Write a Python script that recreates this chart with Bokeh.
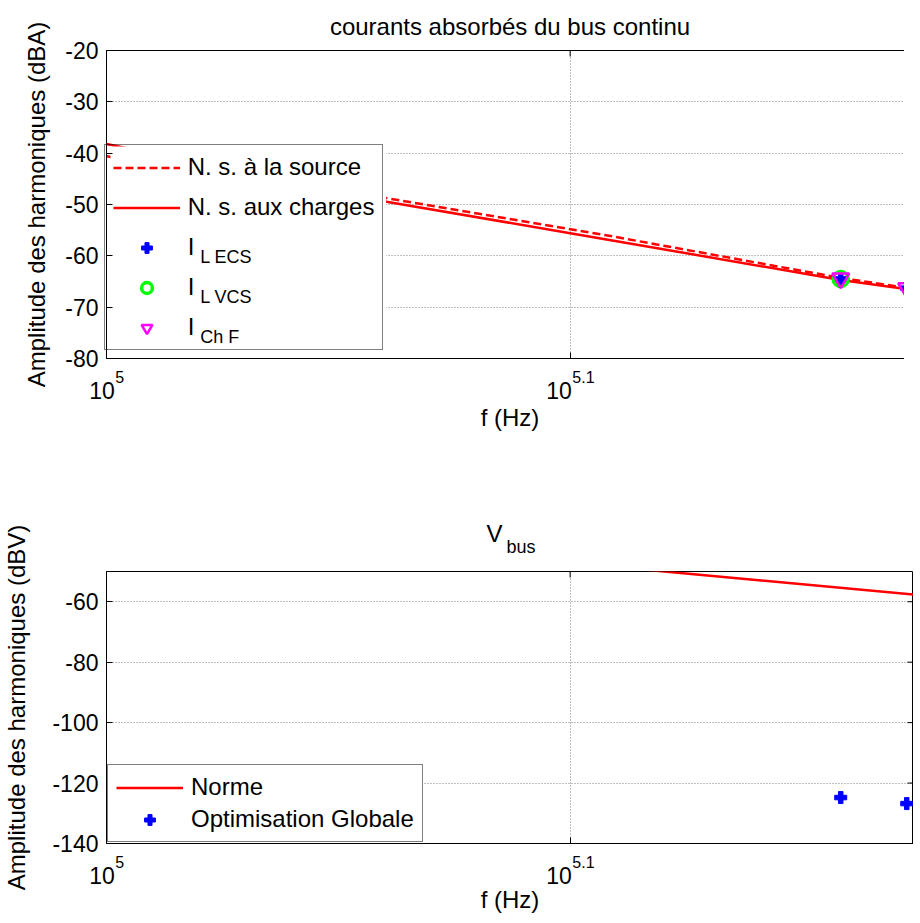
import math
from bokeh.plotting import figure
from bokeh.models import Range1d, FixedTicker, CustomJSTickFormatter, Legend, LegendItem
from bokeh.core.properties import value
from bokeh.layouts import column
from bokeh.embed import file_html
from bokeh.resources import INLINE

FONT = "Liberation Sans"

# ---------------- data ----------------
F_RANGE = [100000, 149300]
X_TICKS = [1e5, 10 ** 5.1]
X_TICK_BASE = ["10", "10"]
X_TICK_EXP = ["5", "5.1"]

# top chart : courants absorbés du bus continu
norme_f = [100000, 115000, 128000, 144000, 150000]
ns_source_db = [-40.6, -48.8, -55.9, -64.3, -66.7]
ns_charges_db = [-38.2, -49.5, -56.7, -64.7, -66.9]
harm_f = [144000, 148800]
i_l_ecs_db = [-64.5, -66.3]
i_l_vcs_f = [144000]
i_l_vcs_db = [-64.5]
i_ch_f_db = [-64.4, -66.3]
top_y_range = [-80, -20]
top_y_ticks = [-80, -70, -60, -50, -40, -30, -20]

# bottom chart : V_bus
vbus_norme_f = [130000, 150000]
vbus_norme_db = [-49.1, -57.9]
vbus_opt_f = [144000, 148800]
vbus_opt_db = [-124.8, -126.8]
bot_y_range = [-140, -50]
bot_y_ticks = [-140, -120, -100, -80, -60]

# ---------------- style ----------------
TICK_PX = 23
LABEL_PX = 24
SUP_PX = 16
LEG_PAD, LEG_H, LEG_GW, LEG_STANDOFF = 8, 27, 67, 8
LEG_ITEM_H = 28.2          # height of a legend row
FRAME_W = 807
TICK_LEN = 6
L0, L1 = math.log10(F_RANGE[0]), math.log10(F_RANGE[1])
X_CENTER = 10 ** ((L0 + L1) / 2)


def px_to_x(fx):
    return 10 ** (L0 + fx / FRAME_W * (L1 - L0))


def px_to_y(fy, y_range, frame_h):
    return y_range[0] + fy / frame_h * (y_range[1] - y_range[0])


def add_text(p, y_range, frame_h, fx, fy, text, size, align="left"):
    """text drawn on top; fx, fy = pixels from the frame's bottom-left corner (fy up)"""
    p.text(x=[X_CENTER], y=[(y_range[0] + y_range[1]) / 2], text=[text],
           x_offset=fx - FRAME_W / 2, y_offset=-(fy - frame_h / 2),
           text_font=value(FONT), text_font_size=value(f"{size}px"),
           text_align=align, text_baseline="middle", text_color="black",
           level="overlay")


def make_fig(y_range, y_ticks, frame_h, border_top, border_bottom, ylabel,
             ylabel_standoff, xlabel_standoff):
    p = figure(x_axis_type="log", x_range=Range1d(*F_RANGE), y_range=Range1d(*y_range),
               frame_width=FRAME_W, frame_height=frame_h,
               min_border_left=97, min_border_right=0,
               min_border_top=border_top, min_border_bottom=border_bottom,
               output_backend="svg", toolbar_location=None)
    p.outline_line_color = "black"
    p.outline_line_width = 1
    p.outline_line_alpha = 1

    xa = p.xaxis[0]
    xa.ticker = FixedTicker(ticks=X_TICKS, minor_ticks=[])
    xa.formatter = CustomJSTickFormatter(code="return ''")
    xa.major_label_standoff = 0
    xa.axis_label = "f (Hz)"
    xa.axis_label_text_font = FONT
    xa.axis_label_text_font_size = f"{LABEL_PX}px"
    xa.axis_label_text_font_style = "normal"
    xa.axis_label_text_color = "black"
    xa.axis_label_standoff = xlabel_standoff
    xa.major_tick_in = TICK_LEN
    xa.major_tick_out = 0
    xa.axis_line_color = "black"
    xa.major_tick_line_color = "black"

    ya = p.yaxis[0]
    ya.ticker = FixedTicker(ticks=y_ticks, minor_ticks=[])
    ya.formatter = CustomJSTickFormatter(code="return tick.toFixed(0)")
    ya.axis_label = ylabel
    ya.axis_label_text_font = FONT
    ya.axis_label_text_font_size = f"{LABEL_PX}px"
    ya.axis_label_text_font_style = "normal"
    ya.axis_label_text_color = "black"
    ya.axis_label_standoff = ylabel_standoff
    ya.major_label_text_font = FONT
    ya.major_label_text_font_size = f"{TICK_PX}px"
    ya.major_label_text_color = "black"
    ya.major_label_standoff = 8
    ya.major_tick_in = TICK_LEN
    ya.major_tick_out = 0
    ya.minor_tick_line_color = None
    ya.axis_line_color = "black"
    ya.major_tick_line_color = "black"

    for g in (p.xgrid[0], p.ygrid[0]):
        g.grid_line_color = "#808080"
        g.grid_line_dash = "1 2"
        g.grid_line_width = 1
    p.xgrid[0].ticker = FixedTicker(ticks=X_TICKS)
    p.ygrid[0].ticker = FixedTicker(ticks=y_ticks)

    # mirrored inward ticks on the right and top edges of the box
    p.scatter(x=[px_to_x(FRAME_W - TICK_LEN / 2)] * len(y_ticks), y=y_ticks,
              marker="dash", size=TICK_LEN, line_color="black", line_width=1)
    p.scatter(x=X_TICKS, y=[px_to_y(frame_h - TICK_LEN / 2, y_range, frame_h)] * len(X_TICKS),
              marker="dash", angle=math.pi / 2, size=TICK_LEN, line_color="black", line_width=1)

    # x tick labels "10" with superscript exponent, centred as a whole on the tick
    w10 = 1.112 * TICK_PX
    for tick, base, exp in zip(X_TICKS, X_TICK_BASE, X_TICK_EXP):
        fx = (math.log10(tick) - L0) / (L1 - L0) * FRAME_W
        wsup = sum(0.556 if c.isdigit() else 0.278 for c in exp) * SUP_PX
        left = fx - (w10 + wsup) / 2
        add_text(p, y_range, frame_h, left, -31.5, base, TICK_PX)
        add_text(p, y_range, frame_h, left + w10 + 0.5, -18.5, exp, SUP_PX)
    return p


def style_legend(leg, loc, spacing):
    leg.location = loc
    leg.label_text_font = FONT
    leg.label_text_font_size = f"{LABEL_PX}px"
    leg.label_text_color = "black"
    leg.border_line_color = "black"
    leg.border_line_width = 1
    leg.background_fill_color = "white"
    leg.background_fill_alpha = 1
    leg.padding = LEG_PAD
    leg.spacing = spacing
    leg.margin = 0
    leg.glyph_width = LEG_GW
    leg.glyph_height = LEG_H
    leg.label_height = LEG_H
    leg.label_standoff = LEG_STANDOFF


# ---------------- top chart ----------------
TOP_FH = 308
p1 = make_fig(top_y_range, top_y_ticks, TOP_FH, 42, 90,
              "Amplitude des harmoniques (dBA)", 12, 45)
p1.title.text = "courants absorbés du bus continu"
p1.title.align = "center"
p1.title.text_font = FONT
p1.title.text_font_size = f"{LABEL_PX}px"
p1.title.text_font_style = "normal"
p1.title.text_color = "black"
p1.title.standoff = 21

r_src = p1.line(norme_f, ns_source_db, line_color="red", line_width=2.5, line_dash="8 4")
r_chg = p1.line(norme_f, ns_charges_db, line_color="red", line_width=2.5)
r_ecs = p1.scatter(harm_f, i_l_ecs_db, marker="plus", size=12, fill_color="blue", line_color="blue")
r_vcs = p1.scatter(i_l_vcs_f, i_l_vcs_db, marker="circle", size=15, fill_color=None,
                   line_color="#00ff00", line_width=3.5)
r_chf = p1.scatter(harm_f, i_ch_f_db, marker="inverted_triangle", size=17, fill_color=None,
                   line_color="magenta", line_width=2.5)

LEG1_SP = 12
LEG1_X, LEG1_Y = 14, 8          # legend box expected at 3 px from the frame's left edge
leg1_h = 2 * LEG_PAD + 5 * LEG_ITEM_H + 4 * LEG1_SP
leg1_w = 2 * LEG_PAD + LEG_GW + LEG_STANDOFF + 7.775 * LABEL_PX

# opaque white panel behind the (transparent) legend, hides grid and lines
p1.quad(left=[px_to_x(4)], right=[px_to_x(3 + leg1_w - 1)],
        bottom=[px_to_y(LEG1_Y + 1, top_y_range, TOP_FH)],
        top=[px_to_y(LEG1_Y + leg1_h - 1, top_y_range, TOP_FH)],
        fill_color="white", line_color=None)

leg1 = Legend(items=[
    LegendItem(label="N. s. à la source", renderers=[r_src]),
    LegendItem(label="N. s. aux charges", renderers=[r_chg]),
    LegendItem(label="I", renderers=[r_ecs]),
    LegendItem(label="I", renderers=[r_vcs]),
    LegendItem(label="I", renderers=[r_chf]),
])
style_legend(leg1, (LEG1_X, LEG1_Y), LEG1_SP)
leg1.background_fill_alpha = 0
p1.add_layout(leg1)

# subscripts of the "I" legend entries
subs = ["L ECS", "L VCS", "Ch F"]
sub_x = 3 + LEG_PAD + LEG_GW + LEG_STANDOFF + 0.278 * LABEL_PX + 1
for k, s in enumerate(subs):
    i = k + 2
    row_center = LEG1_Y + leg1_h - LEG_PAD - LEG_ITEM_H / 2 - i * (LEG_ITEM_H + LEG1_SP)
    add_text(p1, top_y_range, TOP_FH, sub_x, row_center - 9, s, 18)

# ---------------- bottom chart ----------------
BOT_FH = 272
p2 = make_fig(bot_y_range, bot_y_ticks, BOT_FH, 123, 72,
              "Amplitude des harmoniques (dBV)", 19, 42)
r_norme = p2.line(vbus_norme_f, vbus_norme_db, line_color="red", line_width=2.5)
r_opt = p2.scatter(vbus_opt_f, vbus_opt_db, marker="plus", size=12, fill_color="blue", line_color="blue")
leg2 = Legend(items=[
    LegendItem(label="Norme", renderers=[r_norme]),
    LegendItem(label="Optimisation Globale", renderers=[r_opt]),
])
style_legend(leg2, (1, 1), 4)
p2.add_layout(leg2)

# title V_bus
add_text(p2, bot_y_range, BOT_FH, 388, BOT_FH + 38.5, "V", LABEL_PX, align="center")
add_text(p2, bot_y_range, BOT_FH, 400, BOT_FH + 25, "bus", 18)

layout = column(p1, p2)
open("out.html", "w").write(file_html(layout, INLINE))
